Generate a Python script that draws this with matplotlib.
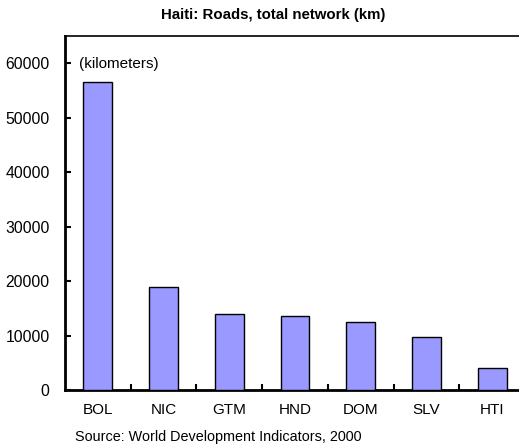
import matplotlib
matplotlib.use("Agg")
import matplotlib.pyplot as plt

categories = ["BOL", "NIC", "GTM", "HND", "DOM", "SLV", "HTI"]
values = [56650, 18970, 13920, 13630, 12580, 9870, 4050]
yticks = [0, 10000, 20000, 30000, 40000, 50000, 60000]

plt.rcParams['font.family'] = ['Liberation Sans', 'DejaVu Sans']

fig = plt.figure(figsize=(5.19, 4.47), dpi=100)
ax = fig.add_axes([65/519, 1 - 390.3/447, 460/519, (390.3 - 36)/447])

x = list(range(len(categories)))
ax.bar(x, values, width=0.44, color="#9999FF", edgecolor="black", linewidth=1.0, zorder=3)

ax.set_xlim(-0.5, 6.5)
ax.set_ylim(0, 65000)
ax.set_yticks(yticks)
ax.set_yticklabels([str(v) for v in yticks], fontsize=11.3)
ax.set_xticks([i + 0.5 for i in range(6)])
ax.set_xticklabels([])
ax.set_xticks(x, minor=True)
ax.set_xticklabels(categories, minor=True, fontsize=11)
ax.tick_params(axis='x', which='minor', length=0, pad=9)
ax.tick_params(axis='x', which='major', direction='in', length=4, width=1.5)
ax.tick_params(axis='y', direction='in', length=4, width=1.5, pad=11)

for s in ['left', 'bottom']:
    ax.spines[s].set_linewidth(2)
ax.spines['top'].set_linewidth(1.2)
ax.spines['right'].set_visible(False)

fig.text(79/519, 1 - 64/447, "(kilometers)", fontsize=11, va='center', ha='left')
fig.text(273/519, 1 - 15/447, "Haiti: Roads, total network (km)",
         fontsize=10.8, fontweight='bold', ha='center', va='center')
fig.text(75/519, 1 - 437/447, "Source: World Development Indicators, 2000",
         fontsize=10.4, ha='left', va='center')

fig.savefig("out.png", dpi=100)
